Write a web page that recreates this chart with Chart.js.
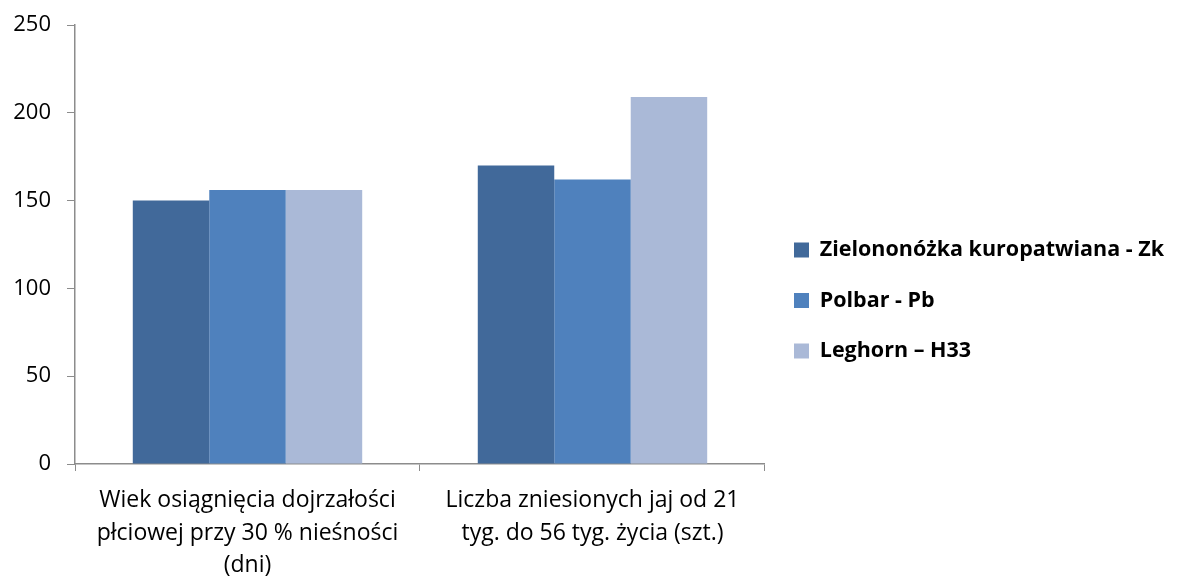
<!DOCTYPE html>
<html>
<head>
<meta charset="utf-8">
<script src="https://cdn.jsdelivr.net/npm/chart.js@4.4.0/dist/chart.umd.min.js"></script>
<style>
  html, body { margin: 0; padding: 0; background: #ffffff; }
  #wrap { width: 1180px; height: 576px; position: relative; }
</style>
</head>
<body>
<div id="wrap"><canvas id="chart" width="1180" height="576"></canvas></div>
<script>
// Categories (multi-line labels)
const categories = [
  ["Wiek osiągnięcia dojrzałości", "płciowej przy 30 % nieśności", "(dni)"],
  ["Liczba zniesionych jaj od 21", "tyg. do 56 tyg. życia (szt.)"]
];

// Series
const seriesNames = ["Zielononóżka kuropatwiana - Zk", "Polbar - Pb", "Leghorn – H33"];
const zkValues = [150, 170];
const pbValues = [156, 162];
const h33Values = [156, 209];

// Y-axis ticks
const yTicks = [0, 50, 100, 150, 200, 250];

const colors = ["#41699A", "#4F81BD", "#AAB9D7"];
const axisColor = "#8C8C8C";
const font = "'Open Sans', Lato, sans-serif";

const chart = new Chart(document.getElementById("chart"), {
  type: "bar",
  data: {
    labels: categories,
    datasets: [
      { label: seriesNames[0], data: zkValues, backgroundColor: colors[0] },
      { label: seriesNames[1], data: pbValues, backgroundColor: colors[1] },
      { label: seriesNames[2], data: h33Values, backgroundColor: colors[2] }
    ]
  },
  options: {
    responsive: false,
    animation: false,
    devicePixelRatio: 1,
    layout: { padding: { top: 25, right: 6, left: 12, bottom: 0 } },
    datasets: {
      bar: { categoryPercentage: 0.665, barPercentage: 1.0, borderWidth: 0 }
    },
    plugins: {
      tooltip: { enabled: false },
      legend: {
        position: "right",
        align: "center",
        maxWidth: 500,
        labels: {
          boxWidth: 15,
          boxHeight: 15,
          padding: 29,
          color: "#000000",
          font: { family: font, size: 21.5, weight: "bold" }
        }
      }
    },
    scales: {
      x: {
        offset: true,
        afterFit: (axis) => { axis.height = 112; },
        grid: {
          display: true,
          offset: true,
          drawOnChartArea: false,
          drawTicks: true,
          tickLength: 7,
          color: axisColor
        },
        border: { display: true, color: axisColor, width: 1.5 },
        ticks: {
          color: "#000000",
          padding: 13,
          maxRotation: 0,
          autoSkip: false,
          font: { family: font, size: 23, lineHeight: 1.42 }
        }
      },
      y: {
        min: 0,
        max: 250,
        afterBuildTicks: (axis) => { axis.ticks = yTicks.map(v => ({ value: v })); },
        afterFit: (axis) => {
          axis.width = 63;
          axis.paddingTop = 0;
          axis.paddingBottom = 0;
        },
        grid: {
          display: true,
          drawOnChartArea: false,
          drawTicks: true,
          tickLength: 8,
          color: axisColor
        },
        border: { display: true, color: axisColor, width: 1.5 },
        ticks: {
          color: "#000000",
          padding: 16,
          font: { family: font, size: 22 }
        }
      }
    }
  }
});
</script>
</body>
</html>
